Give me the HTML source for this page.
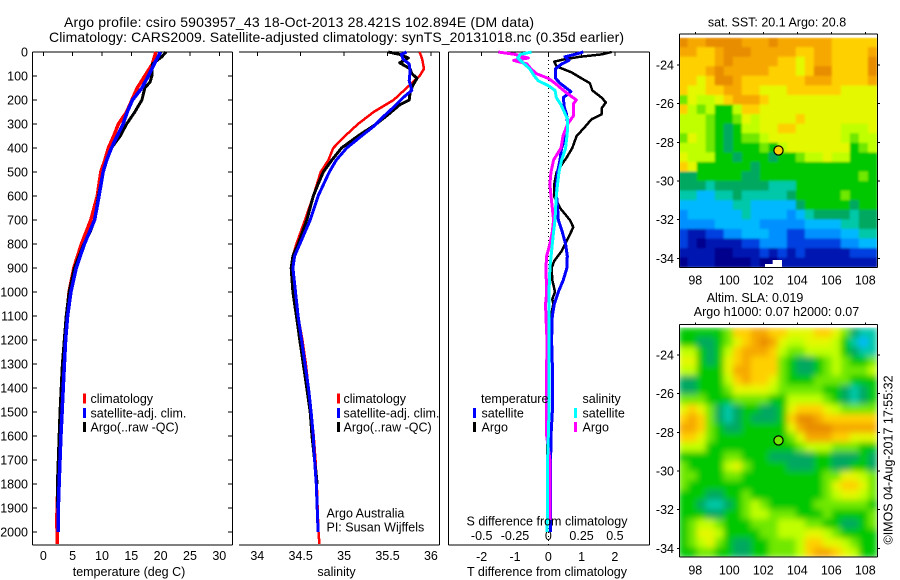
<!DOCTYPE html>
<html lang="en">
<head>
<meta charset="utf-8">
<title>Argo profile csiro 5903957_43</title>
<style>
html,body{margin:0;padding:0;background:#fff;}
#chart{display:block;width:900px;height:580px;}
text{font-family:"Liberation Sans",sans-serif;font-size:12.5px;fill:#000;}
text.main-title{font-size:14px;}
</style>
</head>
<body>
<svg id="chart" xmlns="http://www.w3.org/2000/svg" width="900" height="580" viewBox="0 0 900 580">
<defs>
<clipPath id="sla-clip"><rect x="679" y="327.5" width="198.5" height="229.5"/></clipPath>
<clipPath id="sst-clip"><rect x="679" y="37.5" width="198.5" height="230"/></clipPath>
<filter id="sla-smooth" x="-5%" y="-5%" width="110%" height="110%"><feGaussianBlur stdDeviation="3.2"/></filter>
<filter id="sst-smooth" x="-5%" y="-5%" width="110%" height="110%"><feGaussianBlur stdDeviation="1"/></filter>
</defs>
<text class="main-title" x="299" y="27" text-anchor="middle" textLength="470" lengthAdjust="spacing">Argo profile: csiro 5903957_43 18-Oct-2013 28.421S 102.894E (DM data)</text>
<text class="main-title" x="336.5" y="42" text-anchor="middle" textLength="575" lengthAdjust="spacing">Climatology: CARS2009. Satellite-adjusted climatology: synTS_20131018.nc (0.35d earlier)</text>
<g id="plots"></g>
<text x="129" y="576" text-anchor="middle">temperature (deg C)</text>
<text x="336.5" y="576" text-anchor="middle">salinity</text>
<text x="547" y="576" text-anchor="middle">T difference from climatology</text>
<text x="547" y="525.5" text-anchor="middle">S difference from climatology</text>
<text x="326.5" y="517.5">Argo Australia</text>
<text x="326.5" y="531.5">PI: Susan Wijffels</text>
<text x="777" y="26.5" text-anchor="middle">sat. SST: 20.1 Argo: 20.8</text>
<text x="755" y="302" text-anchor="middle">Altim. SLA: 0.019</text>
<text x="776.5" y="316" text-anchor="middle">Argo h1000: 0.07 h2000: 0.07</text>
<text transform="translate(892.5,460) rotate(-90)" text-anchor="middle">©IMOS 04-Aug-2017 17:55:32</text>
</svg>
<script>
const depthTicks = [0,100,200,300,400,500,600,700,800,900,1000,1100,1200,1300,1400,1500,1600,1700,1800,1900,2000];
const tempTicks = [0,5,10,15,20,25,30];
const salTicks = [34,34.5,35,35.5,36];
const tDiffTicks = [-2,-1,0,1,2];
const sDiffTicks = [-0.5,-0.25,0,0.25,0.5];
const lonTicks = [98,100,102,104,106,108];
const latTicks = [-24,-26,-28,-30,-32,-34];

const climTempDepth = [0,50,100,150,200,250,300,350,400,450,500,600,700,800,900,1000,1100,1300,1500,1700,1950,2050];
const climTemp = [19.2,18.6,17.3,16,15.1,14.2,12.8,12,11.1,10.5,9.8,9.2,8.1,6.5,5.2,4.4,4,3.3,3,2.6,2.3,2.4];
const satTempDepth = [0,50,100,150,200,250,300,350,400,450,500,600,700,800,900,1000,1100,1200,1300,1400,1500,1600,1700,1800,1900,2000];
const satTemp = [20,18.9,17.9,16.8,15.2,14.3,13.6,12.6,11.6,10.8,10.2,9.5,8.75,7,5.6,4.7,4.15,3.8,3.6,3.4,3.2,3,2.85,2.7,2.55,2.55];
const argoTempDepth = [0,20,50,100,125,150,200,225,250,300,350,400,450,500,600,700,750,800,900,1000,1100,1300,1500,1700,1800,1900];
const argoTemp = [20.9,20.2,18.6,18.5,18.2,17.3,16.8,16.2,15.6,14.2,13.1,11.6,10.8,10.2,9.4,8.75,8,6.9,5.3,4.4,3.9,3.25,2.85,2.55,2.4,2.4];

const climSalDepth = [0,30,70,100,150,200,250,300,350,400,450,500,600,700,800,850,900,1000,1100,1200,1300,1400,1500,1600,1700,1800,1900,2000,2050];
const climSal = [35.87,35.9,35.92,35.87,35.72,35.57,35.34,35.16,35.01,34.875,34.82,34.73,34.645,34.55,34.45,34.41,34.4,34.42,34.47,34.52,34.56,34.59,34.62,34.65,34.67,34.685,34.695,34.705,34.715];
const satSalDepth = [0,10,30,50,80,120,160,190,230,270,310,350,400,450,500,600,700,800,850,900,1000,1100,1200,1300,1400,1500,1600,1700,1800,1900,2000];
const satSal = [35.72,35.66,35.68,35.75,35.76,35.75,35.78,35.68,35.57,35.45,35.34,35.2,35.03,34.91,34.83,34.7,34.61,34.49,34.43,34.41,34.44,34.47,34.51,34.55,34.59,34.62,34.645,34.66,34.68,34.69,34.7];
const argoSalDepth = [0,10,25,45,70,90,110,140,170,200,220,260,300,350,400,450,500,550,600,700,800,850,900,1000,1100,1200,1300,1400,1500,1600,1700,1800];
const argoSal = [35.51,35.64,35.74,35.64,35.76,35.78,35.84,35.79,35.76,35.75,35.64,35.51,35.37,35.16,34.97,34.86,34.76,34.7,34.645,34.57,34.47,34.41,34.39,34.41,34.45,34.49,34.53,34.57,34.61,34.63,34.66,34.69];

const satTDiffDepth = [0,10,20,35,50,70,110,130,165,190,230,260,300,350,400,450,500,550,600,650,700,750,800,850,900,950,1000,1050,1100,1200,1300,1500,1600,1800,2000];
const satTDiff = [1.05,0.8,0.5,0.62,0.4,0.22,0.22,0.35,0.68,0.45,0.48,0.55,0.58,0.52,0.4,0.35,0.28,0.25,0.25,0.28,0.3,0.42,0.52,0.57,0.56,0.45,0.3,0.18,0.12,0.1,0.12,0.12,0.08,0.06,0.06];
const argoTDiffDepth = [0,10,20,30,40,60,85,110,130,160,190,210,235,260,280,320,350,400,440,500,550,600,650,700,730,780,830,870,900,950,1000,1030,1050,1100,1200,1300,1500,1800,1900];
const argoTDiff = [1.9,1.6,0.95,0.5,0.18,0.25,0.7,1,1.25,1.32,1.6,1.73,1.6,1.6,1.3,1.05,0.85,0.72,0.55,0.25,0.18,0.17,0.35,0.65,0.75,0.58,0.4,0.18,0.1,0.12,0.2,0.12,0.15,0.08,-0.02,-0.02,-0.02,-0.03,-0.03];
const satSDiffDepth = [0,10,25,50,70,100,120,140,160,190,220,250,280,320,350,400,450,500,550,600,650,700,750,800,900,1000,1100,1400,1500,1700,2000];
const satSDiff = [-0.125,-0.21,-0.23,-0.18,-0.14,-0.105,-0.075,0,0.05,0.06,0.095,0.12,0.145,0.145,0.14,0.13,0.1,0.08,0.07,0.06,0.055,0.05,0.04,0.03,0.012,0.005,0.005,0.005,0.005,-0.005,-0.008];
const argoSDiffDepth = [0,10,25,35,50,70,90,110,130,165,200,215,240,265,300,350,400,450,500,550,600,650,700,750,800,850,900,1000,1050,1100,1200,1300,1500,1600,1700,1950];
const argoSDiff = [-0.375,-0.25,-0.15,-0.26,-0.16,-0.13,-0.09,0,0.05,0.125,0.21,0.19,0.19,0.19,0.145,0.11,0.095,0.04,0.02,0.012,0.02,0.03,0.04,0.03,0.012,-0.012,-0.018,-0.012,-0.02,-0.018,-0.01,-0.012,-0.012,-0.012,0.012,0.012];

const sstGrid = [
[13,12,12,13,13,13,13,12,12,12,13,12,12,12,12,12,12,11,11,11,11,11],
[12,12,11,11,12,13,13,13,12,12,12,12,12,11,11,12,12,11,11,11,11,12],
[11,11,11,11,12,13,12,12,12,12,12,11,11,10,11,12,12,11,11,11,11,13],
[11,11,11,12,13,12,12,12,12,12,11,11,11,10,11,13,13,11,11,11,11,13],
[11,11,10,11,13,13,12,11,11,11,11,11,11,11,12,12,12,11,11,11,11,12],
[11,10,10,11,11,12,12,11,11,10,10,10,11,11,11,11,11,11,10,10,10,10],
[8,10,9,9,10,11,12,12,12,11,10,10,10,10,10,10,10,10,10,10,10,10],
[11,9,8,9,7,7,9,11,11,10,10,10,10,10,10,10,10,10,10,10,10,10],
[9,9,9,8,7,7,8,10,9,10,10,10,10,11,10,10,10,10,10,10,10,10],
[9,9,9,8,7,6,7,9,9,10,10,11,11,10,10,10,10,10,9,9,9,10],
[8,10,9,8,7,6,7,8,8,9,10,10,10,10,10,10,10,10,9,8,9,9],
[9,9,9,8,7,6,7,7,7,8,7,9,10,10,10,10,10,10,10,7,8,9],
[10,9,9,9,7,7,6,7,7,7,6,7,7,8,9,9,10,9,9,7,7,7],
[11,10,7,7,7,7,7,7,6,7,7,7,7,7,7,7,7,7,7,7,7,7],
[6,6,7,7,7,7,7,6,6,7,7,7,7,7,7,7,7,7,7,7,8,7],
[6,6,6,5,6,6,6,6,6,6,5,5,5,7,7,7,7,7,7,7,7,7],
[5,5,4,4,5,5,6,5,5,5,5,5,6,7,7,7,7,7,8,7,7,7],
[4,4,4,4,4,4,5,5,4,4,4,4,4,6,7,7,7,7,7,6,7,7],
[3,4,4,4,4,4,4,5,4,4,4,4,3,4,5,6,6,6,6,5,6,6],
[3,3,3,3,4,4,4,4,4,3,3,3,3,3,4,4,4,4,5,5,6,6],
[2,1,1,2,2,3,3,4,4,4,3,3,2,2,3,3,3,3,4,4,5,5],
[2,1,0,1,1,1,1,2,2,3,3,3,2,2,2,2,2,2,3,3,4,4],
[1,1,1,1,0,0,1,1,1,2,1,2,1,2,1,1,1,1,1,2,2,2],
[0,1,1,1,0,0,0,0,1,0,0,1,1,1,1,1,1,1,1,1,1,1]
];
const slaGrid = [
[7,7,7,7,7,8,11,11,12,12,11,11,10,10,10,11,11,10,8,6,5,5],
[7,7,6,6,7,8,10,11,12,13,12,10,9,9,10,10,10,9,7,5,4,5],
[9,9,7,6,7,9,11,12,12,12,11,9,8,8,9,9,9,9,7,6,5,5],
[10,10,7,6,7,10,11,12,11,11,11,8,7,6,6,7,8,9,8,7,7,8],
[9,9,7,7,7,10,12,12,11,11,11,8,7,6,6,7,8,9,8,8,8,9],
[6,6,7,7,7,9,11,12,11,11,10,8,7,7,7,8,8,8,8,7,7,7],
[6,6,7,7,7,8,10,10,10,10,9,8,8,8,8,8,7,7,6,5,6,7],
[8,8,8,7,7,7,8,8,8,8,7,7,9,9,9,9,8,7,6,5,6,7],
[10,11,10,8,6,5,6,7,7,6,6,7,10,11,11,11,10,9,8,8,8,8],
[11,12,11,8,6,5,6,7,6,6,6,7,11,13,13,12,11,11,11,11,11,11],
[12,12,11,8,7,6,6,7,7,7,7,7,10,12,13,13,13,12,12,12,12,12],
[11,11,10,8,7,7,7,7,7,7,7,7,8,10,12,12,12,11,11,10,10,10],
[9,9,9,7,7,7,7,7,7,7,7,7,7,8,9,9,9,8,8,8,7,7],
[7,7,7,7,7,8,8,7,7,7,6,6,6,6,6,7,7,6,6,6,7,6],
[8,7,7,7,7,9,10,8,7,7,7,7,6,6,6,7,7,6,6,7,7,6],
[8,8,7,7,7,8,8,7,7,7,7,7,7,7,7,7,8,8,10,10,9,8],
[8,7,7,7,7,7,7,7,7,7,7,7,7,7,7,7,8,10,11,11,10,8],
[7,7,7,6,6,7,7,8,7,7,7,7,7,7,7,7,8,9,10,10,9,8],
[7,7,6,5,5,6,7,8,9,8,7,7,7,7,7,8,8,8,8,8,8,7],
[7,7,7,6,6,7,7,8,9,9,8,8,8,7,7,7,8,7,7,7,7,8],
[7,8,9,9,8,7,7,7,8,8,8,9,9,9,8,8,7,7,6,6,7,8],
[7,8,10,10,9,7,7,7,7,8,8,9,9,9,10,10,9,8,7,7,7,7],
[7,8,9,10,8,7,6,6,7,7,8,8,8,9,11,11,10,10,9,8,7,7],
[7,7,8,8,7,7,6,6,7,7,8,8,8,9,11,12,12,11,10,9,7,7]
];
const argoLon = 102.894;
const argoLat = -28.421;
const sstArgoLevel = 11;
const slaArgoLevel = 8;
const levelColors = ['#00008c','#0018b0','#0040e0','#0090ff','#00b8ff','#00c8a8','#00a860','#00c800','#70e800','#c0ff00','#e4f800','#ffd000','#f6a800','#e88c00'];

const NS = 'http://www.w3.org/2000/svg';
const plots = document.getElementById('plots');
function mk(tag, attrs, parent) {
  const el = document.createElementNS(NS, tag);
  for (const k in attrs) el.setAttribute(k, attrs[k]);
  (parent || plots).appendChild(el);
  return el;
}
function label(x, y, str, anchor, name) {
  const el = mk('text', {x: x, y: y, 'text-anchor': anchor});
  el.textContent = str;
  
  
  return el;
}
function seg(x1, y1, x2, y2, name) {
  const el = mk('line', {x1: x1, y1: y1, x2: x2, y2: y2, stroke: '#000', 'stroke-width': 1, 'shape-rendering': 'crispEdges'});
  
  
  return el;
}
const yDepth = d => 52 + 0.24 * d;
const xTemp = t => 43.3 + 5.867 * t;
const xSal = s => 257.3 + 86.8 * (s - 34);
const xTDiff = t => 548.3 + 33.3 * t;
const xSDiff = s => 548.3 + 133.2 * s;
const xLon = lon => 695.3 + 17 * (lon - 98);
const ySst = lat => 65 + 19.33 * (-24 - lat);
const ySla = lat => 355 + 19.33 * (-24 - lat);

function profile(depths, values, xFn, color, width, name) {
  const pts = depths.map((d, i) => xFn(values[i]).toFixed(1) + ',' + yDepth(d).toFixed(1)).join(' ');
  const el = mk('polyline', {points: pts, fill: 'none', stroke: color, 'stroke-width': width, 'stroke-linejoin': 'round', 'shape-rendering': 'crispEdges'});
  
  
}
function legendBar(x, yCenter, color, name) {
  const el = mk('rect', {x: x, y: yCenter - 5, width: 3, height: 10, fill: color, 'shape-rendering': 'crispEdges'});
  
  
}

/* panel frames */
seg(32.5, 52, 232.5, 52, 'temperature-panel-top-axis');
seg(32.5, 545, 232.5, 545, 'temperature-panel-bottom-axis');
seg(32.5, 52, 32.5, 545, 'depth-axis-line');
seg(232.5, 52, 232.5, 545, 'temperature-panel-right-axis');
seg(239, 52, 439.5, 52, 'salinity-panel-top-axis');
seg(239, 545, 439.5, 545, 'salinity-panel-bottom-axis');
seg(439.5, 52, 439.5, 545, 'salinity-panel-right-axis');
seg(448.5, 52, 649.5, 52, 'difference-panel-top-axis');
seg(448.5, 545, 649.5, 545, 'difference-panel-bottom-axis');
seg(448.5, 52, 448.5, 545, 'difference-panel-left-axis');
seg(649.5, 52, 649.5, 545, 'difference-panel-right-axis');

depthTicks.forEach(d => {
  seg(32.5, yDepth(d), 37, yDepth(d), 'depth-tick-left');
  seg(228, yDepth(d), 232.5, yDepth(d), 'depth-tick-right');
  label(28, yDepth(d) + 4.5, String(d), 'end', 'depth-tick-label');
});
tempTicks.forEach(t => {
  seg(xTemp(t), 52, xTemp(t), 56, 'temperature-tick');
  label(xTemp(t), 560, String(t), 'middle', 'temperature-tick-label');
});
salTicks.forEach(s => {
  seg(xSal(s), 52, xSal(s), 56, 'salinity-tick');
  label(xSal(s), 560, String(s), 'middle', 'salinity-tick-label');
});
tDiffTicks.forEach(t => {
  seg(xTDiff(t), 52, xTDiff(t), 56, 'difference-tick');
  label(xTDiff(t), 561, String(t), 'middle', 't-difference-tick-label');
});
sDiffTicks.forEach(s => {
  label(xSDiff(s), 540, String(s), 'middle', 's-difference-tick-label');
});

const zeroLine = mk('line', {x1: xTDiff(0), y1: 52, x2: xTDiff(0), y2: 545, stroke: '#000', 'stroke-width': 1, 'stroke-dasharray': '1 3', 'shape-rendering': 'crispEdges'});



/* profiles */
profile(climTempDepth, climTemp, xTemp, '#ff0000', 3.5, 'temperature-climatology-line');
profile(argoTempDepth, argoTemp, xTemp, '#000000', 3, 'temperature-argo-line');
profile(satTempDepth, satTemp, xTemp, '#0000ff', 3.5, 'temperature-satellite-line');
profile(climSalDepth, climSal, xSal, '#ff0000', 2.5, 'salinity-climatology-line');
profile(argoSalDepth, argoSal, xSal, '#000000', 3, 'salinity-argo-line');
profile(satSalDepth, satSal, xSal, '#0000ff', 3, 'salinity-satellite-line');
profile(argoTDiffDepth, argoTDiff, xTDiff, '#000000', 2.5, 'difference-temperature-argo-line');
profile(satTDiffDepth, satTDiff, xTDiff, '#0000ff', 3, 'difference-temperature-satellite-line');
profile(argoSDiffDepth, argoSDiff, xSDiff, '#ff00ff', 3, 'difference-salinity-argo-line');
profile(satSDiffDepth, satSDiff, xSDiff, '#00ffff', 3, 'difference-salinity-satellite-line');

/* legends */
legendBar(83, 398.5, '#ff0000', 'legend-temperature-climatology-swatch');
legendBar(83, 413, '#0000ff', 'legend-temperature-satellite-swatch');
legendBar(83, 427, '#000000', 'legend-temperature-argo-swatch');
label(90.5, 403, 'climatology', 'start', 'legend-temperature-climatology');
label(90.5, 417.5, 'satellite-adj. clim.', 'start', 'legend-temperature-satellite');
label(90.5, 431.5, 'Argo(..raw -QC)', 'start', 'legend-temperature-argo');
legendBar(337, 398.5, '#ff0000', 'legend-salinity-climatology-swatch');
legendBar(337, 413, '#0000ff', 'legend-salinity-satellite-swatch');
legendBar(337, 427, '#000000', 'legend-salinity-argo-swatch');
label(343.5, 403, 'climatology', 'start', 'legend-salinity-climatology');
label(343.5, 417.5, 'satellite-adj. clim.', 'start', 'legend-salinity-satellite');
label(343.5, 431.5, 'Argo(..raw -QC)', 'start', 'legend-salinity-argo');
label(481, 403, 'temperature', 'start', 'legend-temperature-heading');
legendBar(473, 413, '#0000ff', 'legend-difference-t-satellite-swatch');
legendBar(473, 427, '#000000', 'legend-difference-t-argo-swatch');
label(481.5, 417.5, 'satellite', 'start', 'legend-difference-t-satellite');
label(481.5, 431.5, 'Argo', 'start', 'legend-difference-t-argo');
label(582.5, 403, 'salinity', 'start', 'legend-salinity-heading');
legendBar(574, 413, '#00ffff', 'legend-difference-s-satellite-swatch');
legendBar(574, 427, '#ff00ff', 'legend-difference-s-argo-swatch');
label(582.5, 417.5, 'satellite', 'start', 'legend-difference-s-satellite');
label(582.5, 431.5, 'Argo', 'start', 'legend-difference-s-argo');

/* maps */
const gridLonWest = 97.02;
const gridLonEast = 108.68;
const gridLatNorth = -22.58;
const gridLatSouth = -34.46;
function heatmap(grid, yFn, parent, name) {
  const rows = grid.length;
  const cols = grid[0].length;
  const dLon = (gridLonEast - gridLonWest) / cols;
  const dLat = (gridLatNorth - gridLatSouth) / rows;
  grid.forEach((row, r) => {
    row.forEach((v, c) => {
      const x0 = xLon(gridLonWest + c * dLon);
      const x1 = xLon(gridLonWest + (c + 1) * dLon);
      const y0 = yFn(gridLatNorth - r * dLat);
      const y1 = yFn(gridLatNorth - (r + 1) * dLat);
      const cell = mk('rect', {x: x0.toFixed(1), y: y0.toFixed(1), width: (x1 - x0 + 0.6).toFixed(1), height: (y1 - y0 + 0.6).toFixed(1), fill: levelColors[Math.max(0, Math.min(levelColors.length - 1, Math.round(v)))]}, parent);
      
      
    });
  });
}
const sstClip = mk('g', {'clip-path': 'url(#sst-clip)'});


const sstGroup = mk('g', {filter: 'url(#sst-smooth)'}, sstClip);


heatmap(sstGrid, ySst, sstGroup, 'sst-cell');
const noData = mk('rect', {x: xLon(102.55), y: 260, width: xLon(103.1) - xLon(102.55), height: 7.5, fill: '#fff'});


const noDataLow = mk('rect', {x: xLon(102.1), y: 264, width: xLon(102.6) - xLon(102.1), height: 3.5, fill: '#fff'});



const slaClip = mk('g', {'clip-path': 'url(#sla-clip)'});


const slaGroup = mk('g', {filter: 'url(#sla-smooth)'}, slaClip);


heatmap(slaGrid, ySla, slaGroup, 'sla-cell');

function mapFrame(top, bottom, yFn, prefix, labelY, argoLevel) {
  seg(679.5, top, 877.5, top, prefix + '-top-axis');
  seg(679.5, bottom, 877.5, bottom, prefix + '-bottom-axis');
  seg(679.5, top, 679.5, bottom, prefix + '-left-axis');
  seg(877.5, top, 877.5, bottom, prefix + '-right-axis');
  lonTicks.forEach(lon => {
    seg(xLon(lon), top - 2, xLon(lon), top, prefix + '-lon-tick');
    label(xLon(lon), labelY, String(lon), 'middle', prefix + '-lon-label');
  });
  latTicks.forEach(lat => {
    seg(677, yFn(lat), 679.5, yFn(lat), prefix + '-lat-tick');
    seg(877.5, yFn(lat), 880, yFn(lat), prefix + '-lat-tick');
    label(674, yFn(lat) + 4.5, String(lat), 'end', prefix + '-lat-label');
  });
  const marker = mk('circle', {cx: xLon(argoLon), cy: yFn(argoLat), r: 4.6, fill: levelColors[argoLevel], stroke: '#000', 'stroke-width': 1.2});
  
  
}
mapFrame(34, 267.5, ySst, 'sst-map', 284.5, sstArgoLevel);
mapFrame(324.5, 557, ySla, 'sla-map', 574.5, slaArgoLevel);
</script>
</body>
</html>
